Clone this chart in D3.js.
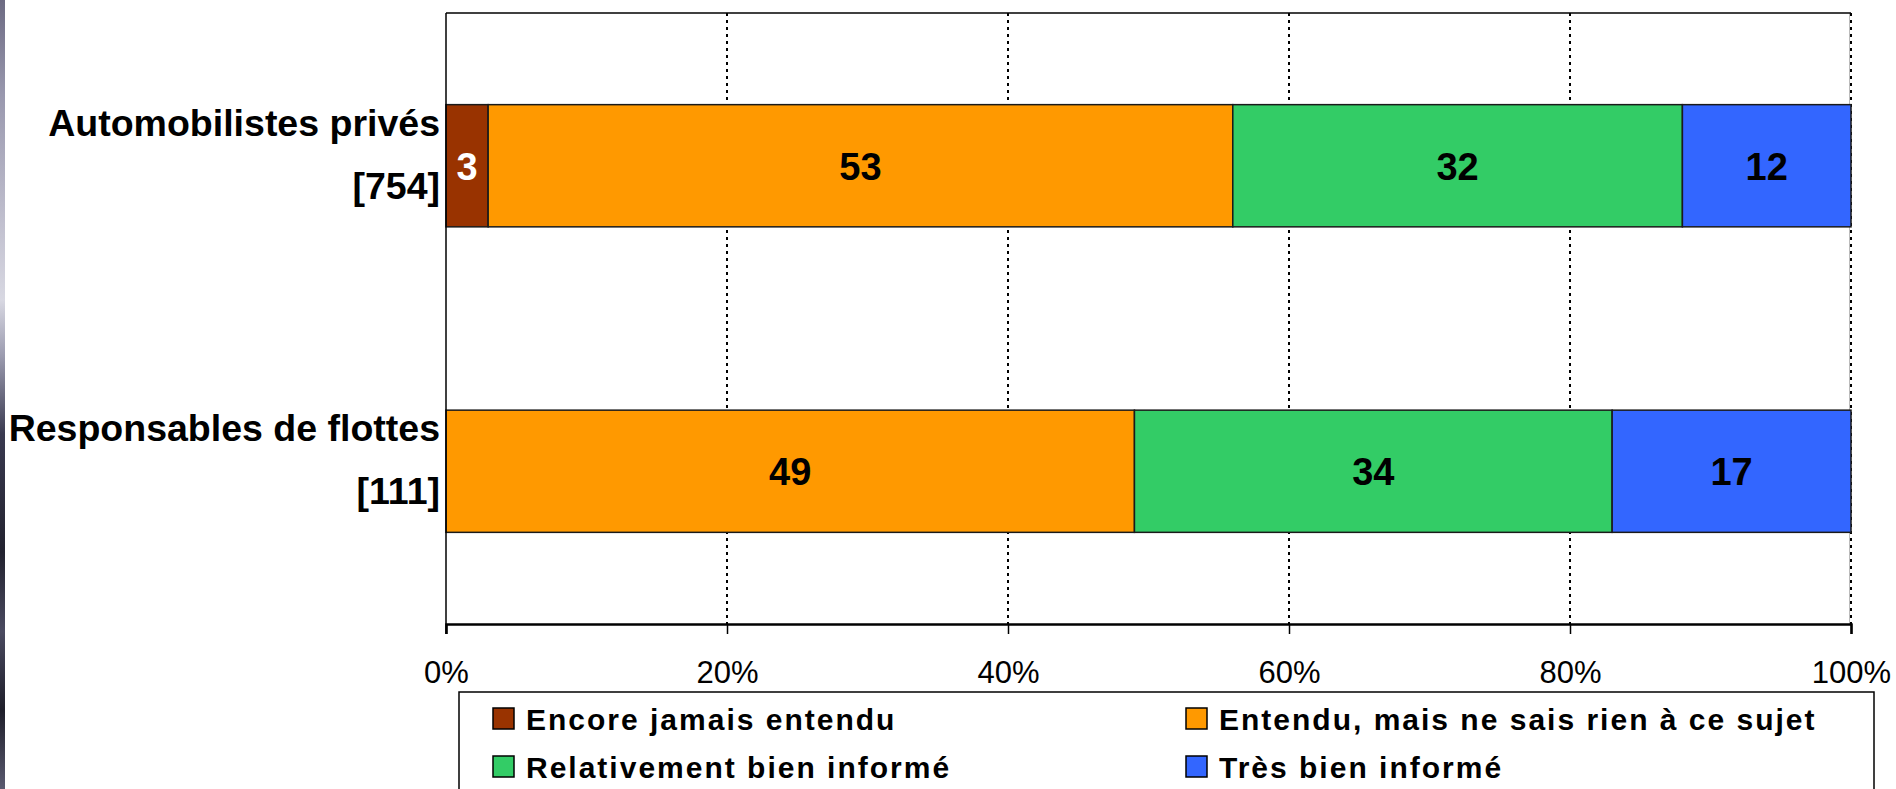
<!DOCTYPE html>
<html>
<head>
<meta charset="utf-8">
<script src="https://cdn.jsdelivr.net/npm/d3@7/dist/d3.min.js"></script>
<style>
  html, body { margin: 0; padding: 0; background: #ffffff; }
  svg { display: block; }
</style>
</head>
<body>
<svg id="chart" width="1896" height="789"></svg>
<script>
// ---------- data ----------
const categories = ["Automobilistes privés", "Responsables de flottes"];
const categorySizes = ["[754]", "[111]"];
const seriesNames = [
  "Encore jamais entendu",
  "Entendu, mais ne sais rien à ce sujet",
  "Relativement bien informé",
  "Très bien informé"
];
const encoreJamais = [3, 0];
const entenduRien = [53, 49];
const relativementInforme = [32, 34];
const tresBienInforme = [12, 17];
const xTicks = [0, 20, 40, 60, 80, 100];
const xTickLabels = ["0%", "20%", "40%", "60%", "80%", "100%"];
const seriesColors = ["#993300", "#FF9900", "#33CC66", "#3366FF"];
const valueLabelColors = ["#ffffff", "#000000", "#000000", "#000000"];

// ---------- layout ----------
const W = 1896, H = 789;
const plot = { left: 446, right: 1851, top: 13, bottom: 624 };
const svg = d3.select("#chart");
const FONT = "'Liberation Sans', Arial, Helvetica, sans-serif";

svg.append("rect").attr("x", 0).attr("y", 0).attr("width", W).attr("height", H).attr("fill", "#ffffff");

// left textured strip (slide background edge)
const defs = svg.append("defs");
const lg = defs.append("linearGradient").attr("id", "edge").attr("x1", 0).attr("y1", 0).attr("x2", 0).attr("y2", 1);
[[0, "#6c6a82"], [0.12, "#9998ae"], [0.28, "#c0bfce"], [0.38, "#d8d8e2"], [0.45, "#9c9cb0"], [0.55, "#3a3a50"],
 [0.7, "#22222f"], [0.8, "#4a4a60"], [0.9, "#1e1e2a"], [1, "#5a5a70"]]
  .forEach(([o, c]) => lg.append("stop").attr("offset", o).attr("stop-color", c));
svg.append("rect").attr("x", 0).attr("y", 0).attr("width", 5).attr("height", H).attr("fill", "url(#edge)");

// ---------- scales ----------
const x = d3.scaleLinear().domain([0, 100]).range([plot.left, plot.right]);
const y = d3.scaleBand().domain(categories).range([plot.top, plot.bottom])
  .paddingInner(0.6).paddingOuter(0.3);

// ---------- stacked data ----------
const seriesArrays = [encoreJamais, entenduRien, relativementInforme, tresBienInforme];
const rows = categories.map((c, i) => {
  const r = { cat: c };
  seriesNames.forEach((s, j) => { r[s] = seriesArrays[j][i]; });
  return r;
});
const stacked = d3.stack().keys(seriesNames)(rows);

// ---------- gridlines ----------
const grid = svg.append("g");
grid.selectAll("line.g").data(xTicks.filter(t => t > 0)).join("line")
  .attr("x1", d => x(d)).attr("x2", d => x(d))
  .attr("y1", plot.top).attr("y2", plot.bottom)
  .attr("stroke", "#000").attr("stroke-width", 2).attr("stroke-dasharray", "3,4");
// right edge light solid
svg.append("line").attr("x1", x(100) - 1.5).attr("x2", x(100) - 1.5).attr("y1", plot.top).attr("y2", plot.bottom)
  .attr("stroke", "#bbbbbb").attr("stroke-width", 1);
// top border
svg.append("line").attr("x1", plot.left).attr("x2", plot.right).attr("y1", plot.top).attr("y2", plot.top)
  .attr("stroke", "#000").attr("stroke-width", 1.5);

// ---------- bars ----------
const barG = svg.append("g");
stacked.forEach((layer, j) => {
  barG.selectAll(null).data(layer.filter(d => d[1] - d[0] > 0)).join("rect")
    .attr("x", d => x(d[0]))
    .attr("y", d => y(d.data.cat))
    .attr("width", d => x(d[1]) - x(d[0]))
    .attr("height", y.bandwidth())
    .attr("fill", seriesColors[j])
    .attr("stroke", "#1a1a1a").attr("stroke-width", 1.5);
});
stacked.forEach((layer, j) => {
  barG.selectAll(null).data(layer.filter(d => d[1] - d[0] > 0)).join("text")
    .attr("x", d => (x(d[0]) + x(d[1])) / 2)
    .attr("y", d => y(d.data.cat) + y.bandwidth() / 2 + 14)
    .attr("text-anchor", "middle")
    .attr("font-family", FONT).attr("font-weight", "bold").attr("font-size", 38)
    .attr("fill", valueLabelColors[j])
    .text(d => d[1] - d[0]);
});

// ---------- axes ----------
// left axis line
svg.append("line").attr("x1", plot.left).attr("x2", plot.left).attr("y1", plot.top).attr("y2", plot.bottom + 10)
  .attr("stroke", "#000").attr("stroke-width", 1.5);

const xAxis = d3.axisBottom(x).tickValues(xTicks).tickSize(10).tickFormat((d, i) => xTickLabels[i]);
const xg = svg.append("g").attr("transform", `translate(0,${plot.bottom})`).call(xAxis);
xg.select(".domain").attr("stroke", "#000").attr("stroke-width", 2.5);
xg.selectAll(".tick line").attr("stroke", "#000").attr("stroke-width", 1.5);
xg.selectAll(".tick text").attr("font-family", FONT).attr("font-size", 31).attr("fill", "#000")
  .attr("y", 59).attr("dy", 0);

// category labels
const catG = svg.append("g");
categories.forEach((c, i) => {
  const cy = y(c) + y.bandwidth() / 2;
  catG.append("text").attr("x", 440).attr("y", cy - 30).attr("text-anchor", "end")
    .attr("font-family", FONT).attr("font-weight", "bold").attr("font-size", 37.5).attr("fill", "#000").text(c);
  catG.append("text").attr("x", 440).attr("y", cy + 33).attr("text-anchor", "end")
    .attr("font-family", FONT).attr("font-weight", "bold").attr("font-size", 37.5).attr("fill", "#000").text(categorySizes[i]);
});

// ---------- legend ----------
const legend = svg.append("g");
legend.append("rect").attr("x", 459).attr("y", 692).attr("width", 1874 - 459).attr("height", 120)
  .attr("fill", "#fff").attr("stroke", "#000").attr("stroke-width", 1.5);
const legPos = [[493, 708], [1186, 708], [493, 756], [1186, 756]];
seriesNames.forEach((s, j) => {
  const [lx, ly] = legPos[j];
  legend.append("rect").attr("x", lx).attr("y", ly).attr("width", 21).attr("height", 21)
    .attr("fill", seriesColors[j]).attr("stroke", "#000").attr("stroke-width", 1.5);
  legend.append("text").attr("x", lx + 33).attr("y", ly + 22)
    .attr("font-family", FONT).attr("font-weight", "bold").attr("font-size", 30)
    .attr("letter-spacing", "2px").attr("fill", "#000").text(s);
});
</script>
</body>
</html>
